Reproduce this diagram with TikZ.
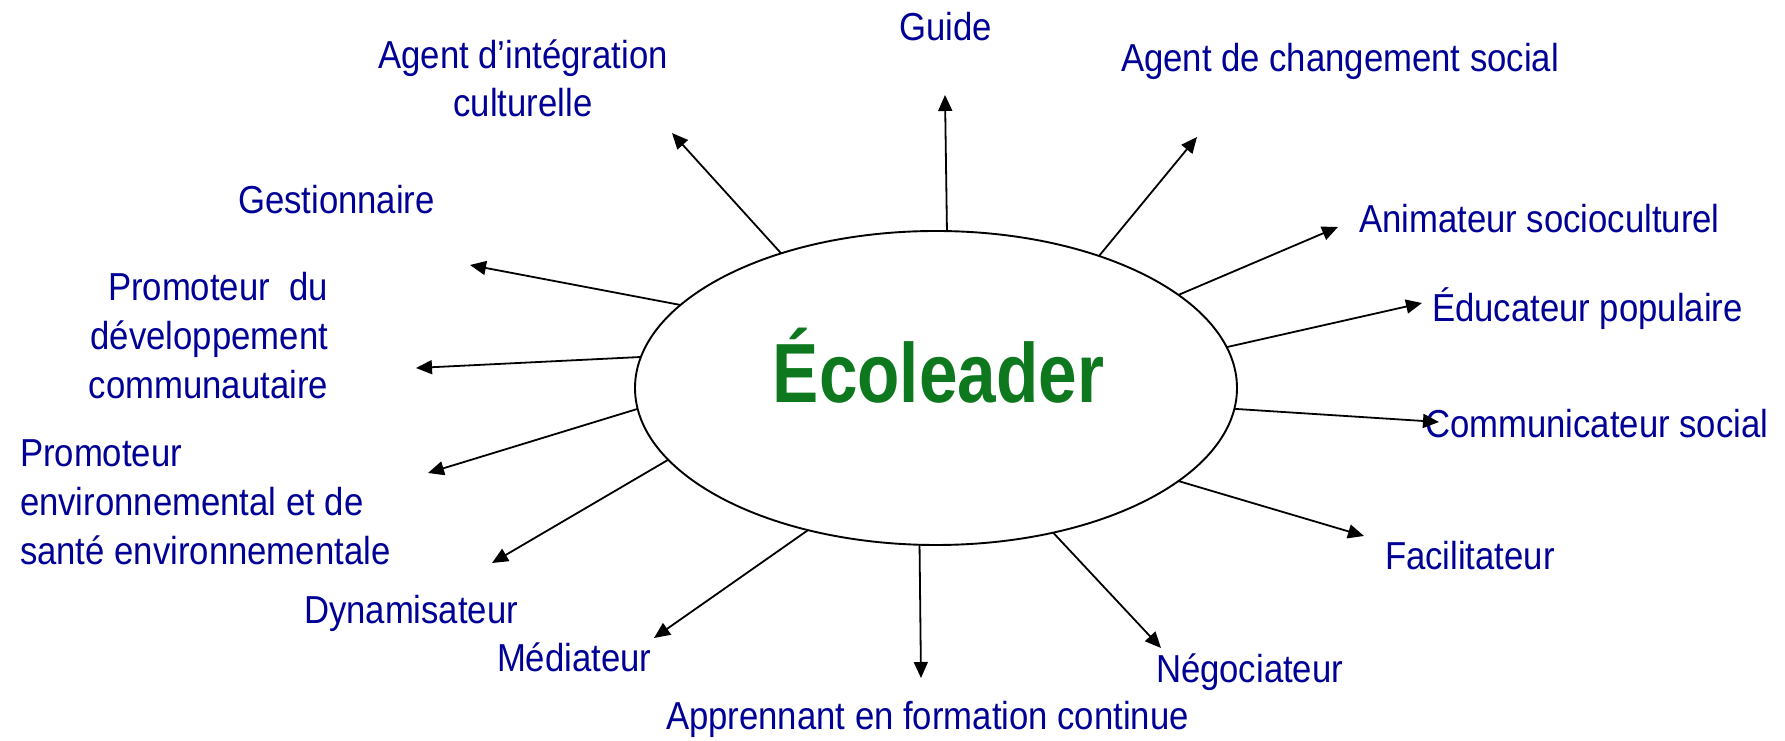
\documentclass[tikz,border=0pt]{standalone}
\usepackage{fontspec}
\setmainfont{Liberation Sans}
\newfontfamily\labfont[FakeStretch=0.89]{Liberation Sans}
\newfontfamily\titfont[FakeStretch=0.825]{Liberation Sans}
\usetikzlibrary{shapes.geometric,arrows.meta}
\definecolor{labblue}{RGB}{0,0,150}
\definecolor{titgreen}{RGB}{14,120,30}
\newcommand{\mlines}[2]{\begin{tabular}[t]{@{}#1@{}}#2\end{tabular}}
\begin{document}
\begin{tikzpicture}[x=1pt,y=1pt,
  lab/.style={font=\labfont\fontsize{39}{49}\selectfont, text=labblue, inner sep=0pt, outer sep=0pt},
  arr/.style={-{Triangle[length=16pt,width=14pt]}, line width=1.8pt, draw=black},
  centre/.style={ellipse, draw=black, line width=1.9pt, minimum width=602pt, minimum height=314pt, inner sep=0pt, outer sep=0pt},
  titre/.style={font=\titfont\bfseries\fontsize{84}{84}\selectfont, text=titgreen, inner sep=0pt}]
\useasboundingbox (0,0) rectangle (1785,741);
\fill[white] (0,0) rectangle (1785,741);

\node[centre] (ell) at (936,353) {};
\node[titre, anchor=base] (tit) at (938.5,338) {Écoleader};

% labels
\node[lab, anchor=base west] (guide) at (899,700) {Guide};
\node[lab, anchor=base west] (chg) at (1121,669) {Agent de changement social};
\node[lab, anchor=base west] (anim) at (1359,508) {Animateur socioculturel};
\node[lab, anchor=base west] (educ) at (1432,419) {Éducateur populaire};
\node[lab, anchor=base west] (comm) at (1425,303) {Communicateur social};
\node[lab, anchor=base west] (facil) at (1385,171) {Facilitateur};
\node[lab, anchor=base west] (nego) at (1156,58) {Négociateur};
\node[lab, anchor=base west] (appr) at (666,11) {Apprennant en formation continue};
\node[lab, anchor=base west] (med) at (497,69) {Médiateur};
\node[lab, anchor=base west] (dyna) at (304,117) {Dynamisateur};
\node[lab, anchor=base west] (penv) at (20,274) {\mlines{l}{Promoteur\\environnemental et de\\santé environnementale}};
\node[lab, anchor=base east] (pdev) at (328,440) {\mlines{r}{Promoteur\ \ du\\développement\\communautaire}};
\node[lab, anchor=base west] (gest) at (238,527) {Gestionnaire};
\node[lab, anchor=base] (aint) at (523,672) {\fontsize{39}{48}\selectfont\mlines{c}{Agent d’intégration\\culturelle}};

% arrow tips
\coordinate (tGuide) at (945,646);
\coordinate (tChg) at (1197,604);
\coordinate (tAnim) at (1338,514);
\coordinate (tEduc) at (1422,438);
\coordinate (tComm) at (1439,319);
\coordinate (tFacil) at (1364,205);
\coordinate (tNego) at (1161,93);
\coordinate (tAppr) at (921,63);
\coordinate (tMed) at (654,103);
\coordinate (tDyna) at (492,178);
\coordinate (tPEnv) at (428,268);
\coordinate (tPDev) at (416,373);
\coordinate (tGest) at (470,476);
\coordinate (tAInt) at (672,608);

% connectors
\draw[arr] (ell.86.7) -- (tGuide);
\draw[arr] (ell.39.3) -- (tChg);
\draw[arr] (ell.21.6) -- (tAnim);
\draw[arr] (ell.8.5) -- (tEduc);
\draw[arr] (ell.-4.0) -- (tComm);
\draw[arr] (ell.-21.5) -- (tFacil);
\draw[arr] (ell.-51.1) -- (tNego);
\draw[arr] (ell.264.5) -- (tAppr);
\draw[arr] (ell.228.4) -- (tMed);
\draw[arr] (ell.195.7) -- (tDyna);
\draw[arr] (ell.184.2) -- (tPEnv);
\draw[arr] (ell.174.3) -- (tPDev);
\draw[arr] (ell.162.1) -- (tGest);
\draw[arr] (ell.139.3) -- (tAInt);
\end{tikzpicture}
\end{document}
